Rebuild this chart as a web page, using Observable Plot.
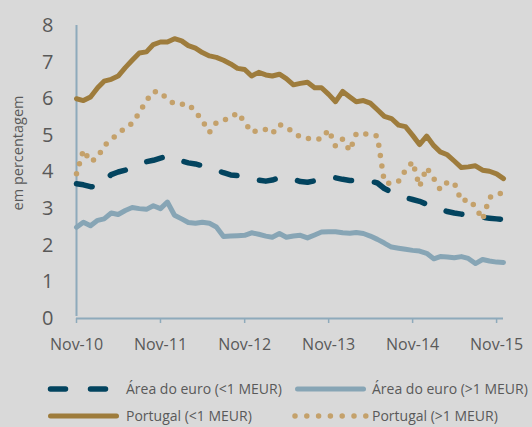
<!DOCTYPE html>
<html>
<head>
<meta charset="utf-8">
<script src="https://cdn.jsdelivr.net/npm/d3@7"></script>
<script src="https://cdn.jsdelivr.net/npm/@observablehq/plot@0.6"></script>
<style>
  html, body { margin: 0; padding: 0; background: #d9d9d9; }
  #wrap { position: relative; width: 532px; height: 427px; background: #d9d9d9; font-family: "Open Sans", sans-serif; color: #595959; overflow: hidden; }
  .lg { position: absolute; font-size: 14px; line-height: 18px; white-space: nowrap; color: #595959; }
  .sw { position: absolute; }
</style>
</head>
<body>
<div id="wrap"></div>
<script>
// ---- data (monthly, Nov-10 .. Dec-15) ----
const tickLabels = ["Nov-10", "Nov-11", "Nov-12", "Nov-13", "Nov-14", "Nov-15"];
const yTicks = [0, 1, 2, 3, 4, 5, 6, 7, 8];
const seriesNames = ["Área do euro (<1 MEUR)", "Área do euro (>1 MEUR)", "Portugal (<1 MEUR)", "Portugal (>1 MEUR)"];
const yLabel = "em percentagem";

const euroSmall = [3.68, 3.65, 3.60, 3.58, 3.75, 3.93, 4.00, 4.05, 4.12, 4.20,
  4.28, 4.32, 4.38, 4.43, 4.40, 4.30, 4.25, 4.22, 4.17, 4.12,
  4.05, 3.98, 3.92, 3.90, 3.85, 3.80, 3.78, 3.75, 3.78, 3.84,
  3.85, 3.80, 3.74, 3.72, 3.76, 3.82, 3.85, 3.84, 3.80, 3.77,
  3.77, 3.76, 3.75, 3.70, 3.55, 3.45, 3.38, 3.30, 3.25, 3.20,
  3.12, 3.05, 2.98, 2.92, 2.88, 2.85, 2.80, 2.78, 2.76, 2.74,
  2.72, 2.70];
const euroLarge = [2.49, 2.63, 2.53, 2.68, 2.72, 2.88, 2.84, 2.95, 3.03, 3.00,
  2.98, 3.08, 3.00, 3.18, 2.82, 2.72, 2.62, 2.60, 2.63, 2.60,
  2.50, 2.24, 2.25, 2.26, 2.27, 2.34, 2.30, 2.25, 2.22, 2.32,
  2.22, 2.25, 2.27, 2.20, 2.28, 2.36, 2.37, 2.37, 2.34, 2.33,
  2.35, 2.32, 2.25, 2.16, 2.06, 1.95, 1.92, 1.89, 1.86, 1.84,
  1.78, 1.63, 1.69, 1.68, 1.66, 1.69, 1.64, 1.50, 1.61, 1.57,
  1.54, 1.53];
const ptSmall = [6.00, 5.95, 6.05, 6.30, 6.48, 6.53, 6.62, 6.85, 7.05, 7.25,
  7.28, 7.48, 7.55, 7.55, 7.64, 7.58, 7.45, 7.38, 7.26, 7.17,
  7.13, 7.05, 6.95, 6.83, 6.80, 6.62, 6.72, 6.65, 6.62, 6.67,
  6.55, 6.38, 6.42, 6.45, 6.30, 6.30, 6.12, 5.92, 6.20, 6.05,
  5.92, 5.95, 5.88, 5.70, 5.52, 5.46, 5.28, 5.24, 5.00, 4.75,
  4.98, 4.72, 4.55, 4.47, 4.30, 4.12, 4.14, 4.17, 4.05, 4.02,
  3.95, 3.82];
const ptLarge = [3.95, 4.60, 4.28, 4.40, 4.72, 4.88, 5.05, 5.20, 5.33, 5.62,
  5.95, 6.20, 6.18, 5.98, 5.86, 5.85, 5.85, 5.65, 5.40, 5.08,
  5.35, 5.42, 5.48, 5.62, 5.36, 5.08, 5.15, 5.16, 5.05, 5.30,
  5.22, 5.08, 4.95, 4.92, 4.90, 4.90, 5.15, 4.70, 4.90, 4.58,
  5.05, 5.05, 5.02, 4.98, 3.72, 3.68, 3.75, 4.05, 4.28, 3.60,
  4.12, 3.82, 3.52, 3.72, 3.70, 3.20, 3.25, 3.05, 2.70, 3.30,
  3.40, 3.42];

// ---- build ----
const start = new Date(Date.UTC(2010, 10, 1));
const months = d3.utcMonths(start, d3.utcMonth.offset(start, euroSmall.length));
const tickDates = tickLabels.map((_, i) => d3.utcYear.offset(start, i));
const rows = (vals) => vals.map((v, i) => ({date: months[i], v}));

const C = {navy: "#03445f", lblue: "#87a5b5", gold: "#9e7c3c", dot: "#c4a16b", axis: "#8eaabb", text: "#595959"};

const chart = Plot.plot({
  width: 532,
  height: 348,
  marginLeft: 76,
  marginRight: 29,
  marginTop: 25,
  marginBottom: 30,
  style: {background: "#d9d9d9", color: C.text, fontFamily: "'Open Sans', sans-serif", overflow: "visible"},
  x: {type: "utc", domain: [months[0], months[months.length - 1]]},
  y: {domain: [0, 8]},
  marks: [
    Plot.axisY(yTicks, {tickSize: 0, tickPadding: 23, fontSize: 20, label: null}),
    Plot.axisX(tickDates, {
      tickSize: 5, tickPadding: 15, fontSize: 16, stroke: C.axis, strokeWidth: 1.5, label: null,
      tickFormat: d => tickLabels[tickDates.findIndex(t => +t === +d)]
    }),
    Plot.text([yLabel], {frameAnchor: "left", textAnchor: "middle", lineAnchor: "middle", dx: -58, dy: -19, rotate: -90, fontSize: 14.5, fill: C.text}),
    Plot.ruleY([0], {stroke: C.axis, strokeWidth: 2}),
    Plot.ruleX([months[0]], {stroke: C.axis, strokeWidth: 2, y1: 0, y2: 8, insetTop: -2}),
    Plot.line(rows(euroSmall), {x: "date", y: "v", stroke: C.navy, strokeWidth: 5.5, strokeLinecap: "round", strokeDasharray: "16,23", curve: "linear"}),
    Plot.line(rows(euroLarge), {x: "date", y: "v", stroke: C.lblue, strokeWidth: 5, strokeLinecap: "round", strokeLinejoin: "round"}),
    Plot.line(rows(ptSmall), {x: "date", y: "v", stroke: C.gold, strokeWidth: 5, strokeLinecap: "round", strokeLinejoin: "round"}),
    Plot.line(rows(ptLarge), {x: "date", y: "v", stroke: C.dot, strokeWidth: 5.5, strokeLinecap: "round", strokeDasharray: "0,10.5"})
  ]
});

const wrap = document.getElementById("wrap");
chart.style.position = "absolute";
chart.style.left = "0px";
chart.style.top = "0px";
wrap.appendChild(chart);

// ---- legend (HTML below the svg) ----
const legendItems = [
  {name: seriesNames[0], color: C.navy, dash: "20,20", w: 5.5, sx: 48, sw: 60, tx: 126, cy: 389},
  {name: seriesNames[1], color: C.lblue, dash: null, w: 5, sx: 295, sw: 71, tx: 372, cy: 389},
  {name: seriesNames[2], color: C.gold, dash: null, w: 5, sx: 48, sw: 71, tx: 126, cy: 416},
  {name: seriesNames[3], color: C.dot, dash: "0,11.8", w: 5.5, sx: 295, sw: 71, tx: 372, cy: 416}
];
for (const it of legendItems) {
  const s = document.createElementNS("http://www.w3.org/2000/svg", "svg");
  s.setAttribute("class", "sw");
  s.setAttribute("width", it.sw + 8);
  s.setAttribute("height", 10);
  s.style.left = (it.sx - 4) + "px";
  s.style.top = (it.cy - 5) + "px";
  const l = document.createElementNS("http://www.w3.org/2000/svg", "line");
  l.setAttribute("x1", it.dash && it.dash.startsWith("0") ? 4 : 6.5);
  l.setAttribute("x2", it.dash && it.dash.startsWith("0") ? it.sw + 4.5 : it.sw + 1.5);
  l.setAttribute("y1", 5); l.setAttribute("y2", 5);
  l.setAttribute("stroke", it.color);
  l.setAttribute("stroke-width", it.w);
  l.setAttribute("stroke-linecap", "round");
  if (it.dash) l.setAttribute("stroke-dasharray", it.dash === "20,20" ? "15,25" : it.dash);
  s.appendChild(l);
  wrap.appendChild(s);
  const t = document.createElement("div");
  t.className = "lg";
  t.textContent = it.name;
  t.style.left = it.tx + "px";
  t.style.top = (it.cy - 9) + "px";
  wrap.appendChild(t);
}
</script>
</body>
</html>
